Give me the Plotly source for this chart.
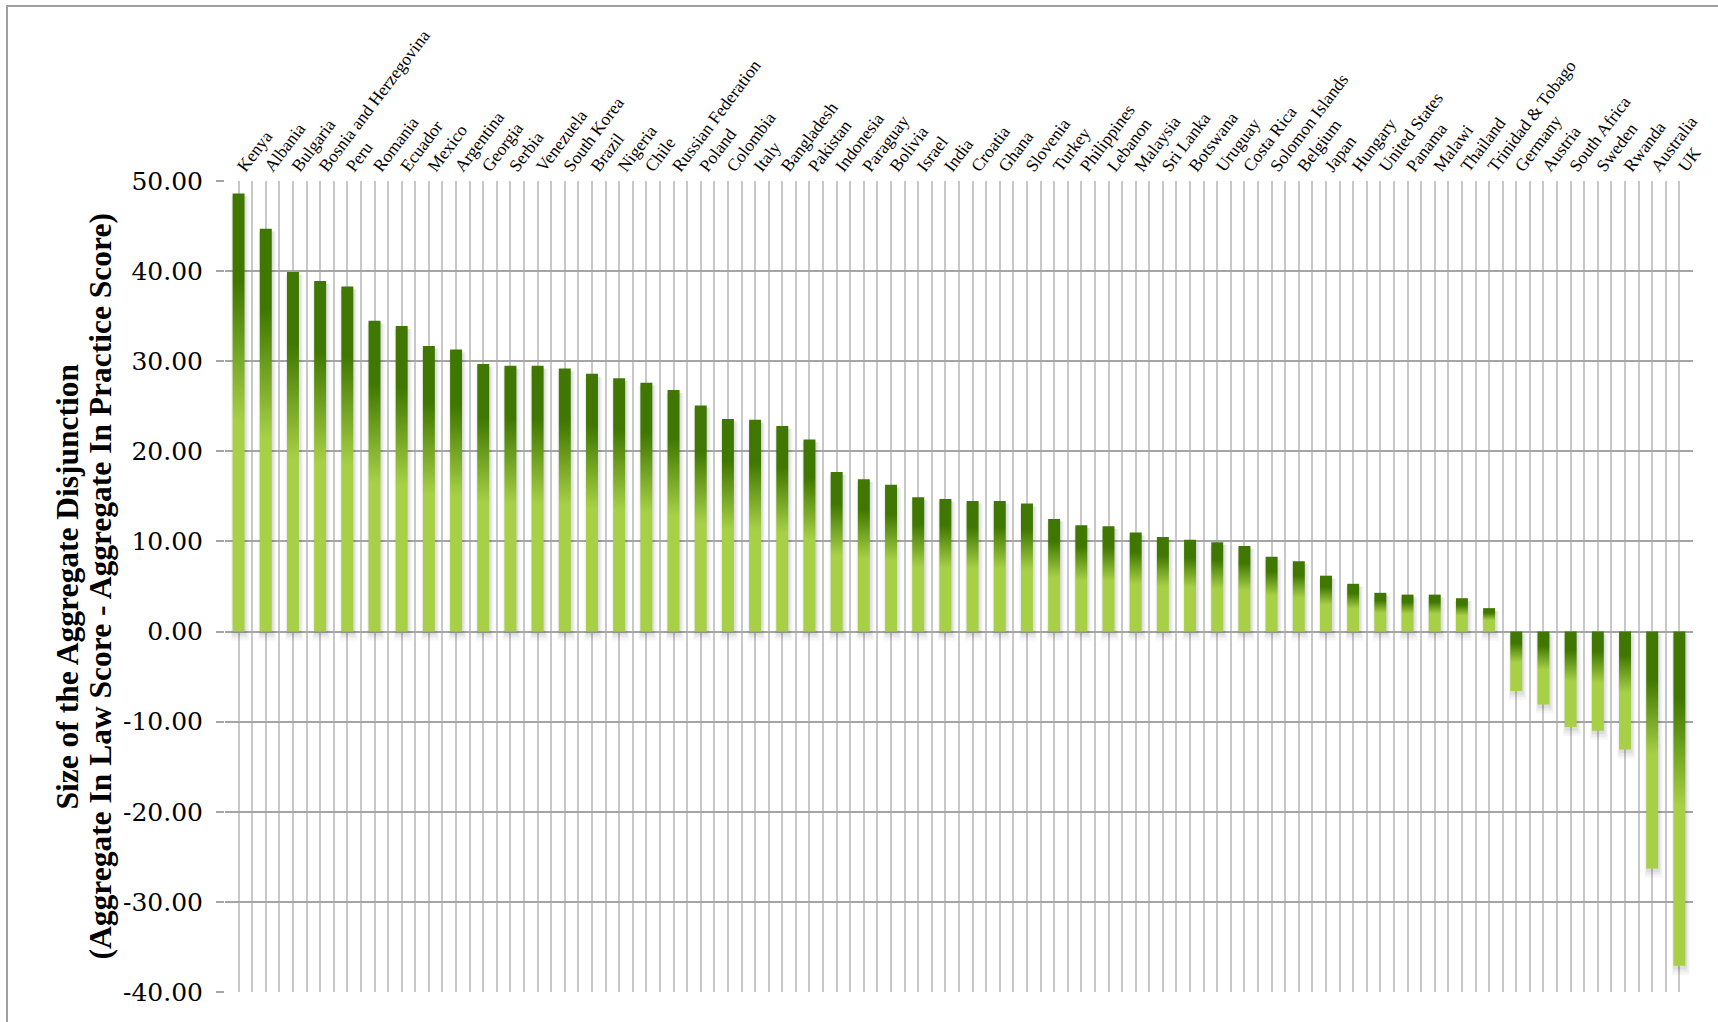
import plotly.graph_objects as go

countries = [
    "Kenya", "Albania", "Bulgaria", "Bosnia and Herzegovina", "Peru", "Romania",
    "Ecuador", "Mexico", "Argentina", "Georgia", "Serbia", "Venezuela",
    "South Korea", "Brazil", "Nigeria", "Chile", "Russian Federation", "Poland",
    "Colombia", "Italy", "Bangladesh", "Pakistan", "Indonesia", "Paraguay",
    "Bolivia", "Israel", "India", "Croatia", "Ghana", "Slovenia", "Turkey",
    "Philippines", "Lebanon", "Malaysia", "Sri Lanka", "Botswana", "Uruguay",
    "Costa Rica", "Solomon Islands", "Belgium", "Japan", "Hungary",
    "United States", "Panama", "Malawi", "Thailand", "Trinidad & Tobago",
    "Germany", "Austria", "South Africa", "Sweden", "Rwanda", "Australia", "UK",
]

disjunction = [
    48.6, 44.7, 39.9, 38.9, 38.3, 34.5,
    33.9, 31.7, 31.3, 29.7, 29.5, 29.5,
    29.2, 28.6, 28.1, 27.6, 26.8, 25.1,
    23.6, 23.5, 22.8, 21.3, 17.7, 16.9,
    16.3, 14.9, 14.7, 14.5, 14.5, 14.2, 12.5,
    11.8, 11.7, 11.0, 10.5, 10.2, 9.9,
    9.5, 8.3, 7.8, 6.2, 5.3,
    4.3, 4.1, 4.1, 3.7, 2.6,
    -6.6, -8.1, -10.6, -11.0, -13.1, -26.3, -37.1,
]

y_tick_vals = [50, 40, 30, 20, 10, 0, -10, -20, -30, -40]
y_tick_text = ["50.00", "40.00", "30.00", "20.00", "10.00", "0.00",
               "-10.00", "-20.00", "-30.00", "-40.00"]

y_title_lines = ["Size of the Aggregate Disjunction",
                 "(Aggregate In Law Score - Aggregate In Practice Score)"]

DARK = "#3f7700"
LIGHT = "#a7d046"
BAR_W = 0.44
gradient = [[0.0, LIGHT], [0.48, LIGHT], [0.80, DARK], [1.0, DARK]]

# soft drop-shadow layers: (extra width right, extra width left, drop in data units, opacity)
shadow_layers = [(0.16, 0.06, 1.0, 0.035), (0.11, 0.03, 0.7, 0.045), (0.06, 0.0, 0.4, 0.06)]

fig = go.Figure()

n = len(countries)
for i, (name, v) in enumerate(zip(countries, disjunction)):
    x0, x1 = i - BAR_W / 2, i + BAR_W / 2
    for (wr, wl, dy, op) in shadow_layers:
        sx0, sx1 = x0 - wl, x1 + wr
        if v > 0:
            lo, hi = -dy, v - 0.3
        else:
            lo, hi = v - dy, -0.3
        fig.add_trace(go.Scatter(
            x=[sx0, sx1, sx1, sx0, sx0],
            y=[lo, lo, hi, hi, lo],
            fill="toself", mode="none",
            fillcolor=f"rgba(0,0,0,{op})",
            hoverinfo="skip", showlegend=False,
        ))
    fig.add_trace(go.Scatter(
        x=[x0, x1, x1, x0, x0],
        y=[0, 0, v, v, 0],
        fill="toself", mode="none",
        fillgradient=dict(type="vertical", colorscale=gradient),
        name=name, showlegend=False,
        hovertemplate=f"{name}: {v:.2f}<extra></extra>",
    ))

W, H = 1718, 1022
L, R, T, B = 225, 25, 181, 30
pw, ph = W - L - R, H - T - B

fig.update_layout(
    width=W, height=H,
    margin=dict(l=L, r=R, t=T, b=B, pad=0),
    paper_bgcolor="white", plot_bgcolor="white",
    showlegend=False,
    font=dict(family="Liberation Serif", color="black"),
)

fig.update_xaxes(
    range=[-0.5, n - 0.5],
    side="top",
    tickmode="array", tickvals=list(range(n)), ticktext=countries,
    tickangle=-53,
    tickfont=dict(family="Liberation Serif", size=17.5, color="black"),
    ticks="",
    showgrid=True, gridcolor="#c8c8c8", gridwidth=2,
    minor=dict(tick0=0.5, dtick=1, showgrid=True, gridcolor="#c8c8c8", gridwidth=2, ticks=""),
    zeroline=False, showline=False,
    fixedrange=True,
)

fig.update_yaxes(
    range=[-40, 50],
    tickmode="array", tickvals=y_tick_vals, ticktext=y_tick_text,
    tickfont=dict(family="DejaVu Serif", size=25, color="black"),
    ticks="outside", ticklen=8, tickcolor="#a5a5a5", tickwidth=2,
    ticklabelstandoff=8,
    showgrid=True, gridcolor="#a5a5a5", gridwidth=2,
    zeroline=True, zerolinecolor="#a5a5a5", zerolinewidth=2,
    showline=False,
    automargin=False,
    fixedrange=True,
)

# two-line vertical axis title (tight line spacing)
for line_text, px in zip(y_title_lines, [67, 100]):
    fig.add_annotation(
        text=f"<b>{line_text}</b>",
        xref="paper", yref="paper",
        x=(px - L) / pw, y=0.5,
        xanchor="center", yanchor="middle",
        textangle=-90, showarrow=False,
        font=dict(family="Liberation Serif", size=31.5, color="black"),
    )

# outer frame of the slide
fig.add_shape(
    type="rect", xref="paper", yref="paper",
    x0=(7 - L) / pw, x1=(W + 20 - L) / pw,
    y0=-(H + 20 - T - ph) / ph, y1=1 + (T - 6) / ph,
    line=dict(color="#a0a0a0", width=2), fillcolor="rgba(0,0,0,0)", layer="below",
)

fig.write_html("out.html")
